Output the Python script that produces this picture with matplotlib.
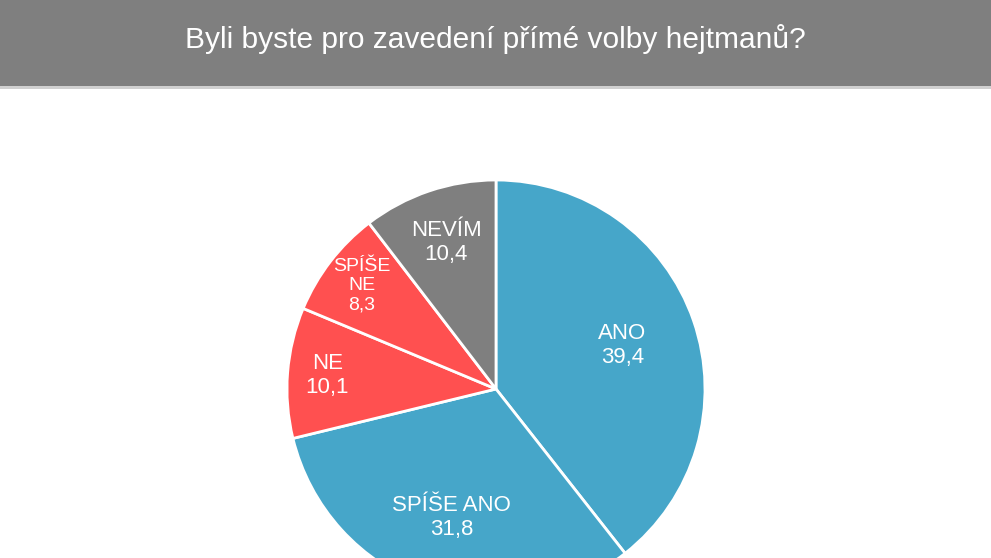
import numpy as np
import matplotlib.pyplot as plt
from matplotlib.patches import Rectangle

# data
kategorie = ['ANO', 'SPÍŠE ANO', 'NE', 'SPÍŠE NE', 'NEVÍM']
popisky = ['ANO', 'SPÍŠE ANO', 'NE', 'SPÍŠE\nNE', 'NEVÍM']
hodnoty = [39.4, 31.8, 10.1, 8.3, 10.4]
barvy = ['#46a6c9', '#46a6c9', '#ff5050', '#ff5050', '#7f7f7f']
nazev = 'Byli byste pro zavedení přímé volby hejtmanů?'

plt.rcParams['font.family'] = ['Liberation Sans', 'DejaVu Sans']

W, H = 991, 558
fig = plt.figure(figsize=(W / 100, H / 100), dpi=100)
fig.patch.set_facecolor('white')

# title band
fig.patches.append(Rectangle((0, 1 - 86 / H), 1, 86 / H, transform=fig.transFigure,
                             facecolor='#7f7f7f', edgecolor='none', zorder=0))
fig.patches.append(Rectangle((0, 1 - 89 / H), 1, 3 / H, transform=fig.transFigure,
                             facecolor='#d0d0d0', edgecolor='none', zorder=0))
fig.text(0.4995, 1 - 39 / H, nazev, ha='center', va='center', color='white', fontsize=21.5)

# pie axes, placed in pixels (center 496,389 radius 209)
cx, cy, r = 496, 389, 209
ax = fig.add_axes([(cx - r) / W, (H - cy - r) / H, 2 * r / W, 2 * r / H])
wedges, _ = ax.pie(hodnoty, colors=barvy, startangle=90, counterclock=False,
                   wedgeprops=dict(edgecolor='white', linewidth=2))
ax.set_xlim(-1, 1)
ax.set_ylim(-1, 1)
ax.set_aspect('equal')
ax.axis('off')

vzdal = [0.64, 0.65, 0.81, 0.81, 0.74]
velikost = [16, 16, 16, 14, 16]
for w, lab, val, d, fs in zip(wedges, popisky, hodnoty, vzdal, velikost):
    ang = np.deg2rad((w.theta1 + w.theta2) / 2)
    txt = lab + '\n' + f'{val:.1f}'.replace('.', ',')
    ax.text(d * np.cos(ang), d * np.sin(ang), txt, ha='center', va='center',
            color='white', fontsize=fs, linespacing=1.2)

fig.savefig('out.png', dpi=100)
